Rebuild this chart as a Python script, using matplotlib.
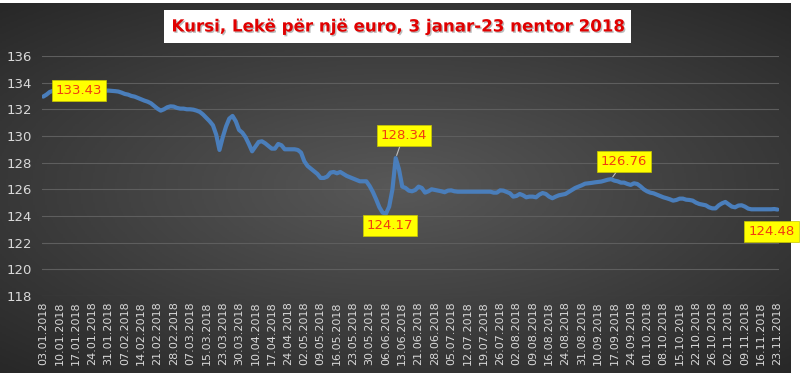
import numpy as np
import matplotlib
matplotlib.use("Agg")
import matplotlib.pyplot as plt
import matplotlib.patheffects as pe
from matplotlib.colors import LinearSegmentedColormap

# tick labels (every 5th business day)
tick_dates = ["03.01", "10.01", "17.01", "24.01", "31.01", "07.02", "14.02", "21.02",
              "28.02", "07.03", "15.03", "23.03", "30.03", "10.04", "17.04", "24.04",
              "02.05", "09.05", "16.05", "23.05", "30.05", "06.06", "13.06", "21.06",
              "28.06", "05.07", "12.07", "19.07", "26.07", "02.08", "09.08", "16.08",
              "24.08", "31.08", "10.09", "17.09", "24.09", "01.10", "08.10", "15.10",
              "22.10", "26.10", "02.11", "09.11", "16.11", "23.11"]
tick_labels = [d + ".2018" for d in tick_dates]

# ALL/EUR rate, one value per business day
rate = [
    132.95, 133.10, 133.30, 133.38, 133.40, 133.40, 133.39, 133.40, 133.41, 133.40,
    133.41, 133.43, 133.42, 133.40, 133.38, 133.40, 133.41, 133.40, 133.39, 133.40,
    133.40, 133.38, 133.36, 133.33, 133.25, 133.15, 133.10, 133.00, 132.95, 132.85,
    132.75, 132.65, 132.57, 132.45, 132.25, 132.05, 131.90, 132.00, 132.15, 132.22,
    132.20, 132.10, 132.05, 132.05, 132.00, 132.00, 131.97, 131.90, 131.80, 131.60,
    131.35, 131.10, 130.80, 130.10, 128.95, 129.90, 130.70, 131.30, 131.50, 131.10,
    130.45, 130.25, 129.90, 129.40, 128.85, 129.20, 129.55, 129.60, 129.45, 129.25,
    129.05, 129.05, 129.40, 129.30, 129.00, 129.00, 129.00, 129.00, 128.95, 128.75,
    128.10, 127.75, 127.55, 127.35, 127.15, 126.85, 126.85, 126.95, 127.25, 127.30,
    127.20, 127.30, 127.15, 127.00, 126.90, 126.80, 126.70, 126.60, 126.60, 126.60,
    126.25, 125.80, 125.25, 124.65, 124.25, 124.17, 124.70, 126.00, 128.34, 127.50,
    126.20, 126.10, 125.90, 125.85, 125.95, 126.20, 126.10, 125.75, 125.85, 126.00,
    125.95, 125.90, 125.85, 125.78, 125.90, 125.92, 125.85, 125.82, 125.82, 125.82,
    125.82, 125.82, 125.82, 125.82, 125.82, 125.82, 125.82, 125.82, 125.75, 125.75,
    125.92, 125.90, 125.80, 125.70, 125.45, 125.50, 125.65, 125.55, 125.40, 125.45,
    125.45, 125.40, 125.60, 125.72, 125.65, 125.45, 125.33, 125.45, 125.55, 125.60,
    125.65, 125.80, 125.95, 126.10, 126.20, 126.30, 126.42, 126.45, 126.48, 126.52,
    126.55, 126.58, 126.65, 126.72, 126.76, 126.65, 126.60, 126.50, 126.50, 126.40,
    126.33, 126.45, 126.40, 126.22, 126.00, 125.85, 125.75, 125.70, 125.60, 125.50,
    125.40, 125.33, 125.25, 125.15, 125.20, 125.30, 125.30, 125.22, 125.20, 125.15,
    125.00, 124.90, 124.85, 124.80, 124.65, 124.57, 124.57, 124.80, 124.95, 125.05,
    124.88, 124.70, 124.65, 124.78, 124.80, 124.70, 124.55, 124.50, 124.50, 124.50,
    124.50, 124.50, 124.50, 124.50, 124.52, 124.48,
]

# labelled points: value, label offset in pixels, draw leader line
labels = [(133.43, (0, 0), False), (128.34, (8, 23), True), (124.17, (4, -12), False),
          (126.76, (13, 18), True), (124.48, (-6, -22), False)]

title = "Kursi, Lekë për një euro, 3 janar-23 nentor 2018"

fig = plt.figure(figsize=(8, 3.78), dpi=100, facecolor="white")

# dark radial gradient background of the chart area
bg = fig.add_axes([0, 0.013, 0.988, 0.98])
yy, xx = np.mgrid[-1:1:200j, -1:1:400j]
r = np.sqrt((xx / 1.1) ** 2 + (yy / 1.0) ** 2)
cmap = LinearSegmentedColormap.from_list("bg", ["#585858", "#262626"])
bg.imshow(r, cmap=cmap, aspect="auto", extent=[0, 1, 0, 1], vmin=0, vmax=1.4)
bg.set_axis_off()

ax = fig.add_axes([0.052, 0.217, 0.922, 0.635])
ax.patch.set_alpha(0)
x = np.arange(len(rate))
ax.plot(x, rate, color="#4a7ebb", lw=3, solid_capstyle="round", solid_joinstyle="round", zorder=3)

ax.set_ylim(118, 136)
ax.set_yticks(range(118, 137, 2))
ax.set_xlim(-0.5, len(rate) - 0.5)
ax.set_xticks(range(0, len(rate), 5))
ax.set_xticklabels(tick_labels, rotation=90, fontsize=8, color="#d9d9d9",
                   family=["Liberation Sans Narrow", "DejaVu Sans"])
ax.tick_params(axis="y", labelsize=9.5, colors="#d9d9d9", length=0, pad=7)
ax.tick_params(axis="x", length=0, pad=4)
for lab in ax.get_yticklabels():
    lab.set_family(["Liberation Sans Narrow", "DejaVu Sans"])
ax.grid(axis="y", color="#5e5e5e", lw=0.8)
for s in ax.spines.values():
    s.set_visible(False)

for val, off, leader in labels:
    i = rate.index(val)
    ax.annotate(f"{val:.2f}", xy=(i, val), xytext=off, textcoords="offset pixels",
                ha="center", va="center", fontsize=9.5, color="#f03c10",
                family=["Liberation Sans Narrow", "DejaVu Sans"], zorder=5,
                bbox=dict(boxstyle="square,pad=0.3", fc="#ffff00", ec="#c8c800", lw=0.5),
                arrowprops=dict(arrowstyle="-", color="#bfbfbf", lw=0.8,
                                shrinkA=0, shrinkB=2) if leader else None,
                annotation_clip=False)

fig.text(0.497, 0.93, title, ha="center", va="center", fontsize=12, fontweight="bold",
         color="#e00000",
         bbox=dict(boxstyle="square,pad=0.45", fc="white", ec="none"),
         path_effects=[pe.withSimplePatchShadow(offset=(1, -1), shadow_rgbFace="#555555", alpha=0.4)])

fig.savefig("out.png", dpi=100, facecolor=fig.get_facecolor())
